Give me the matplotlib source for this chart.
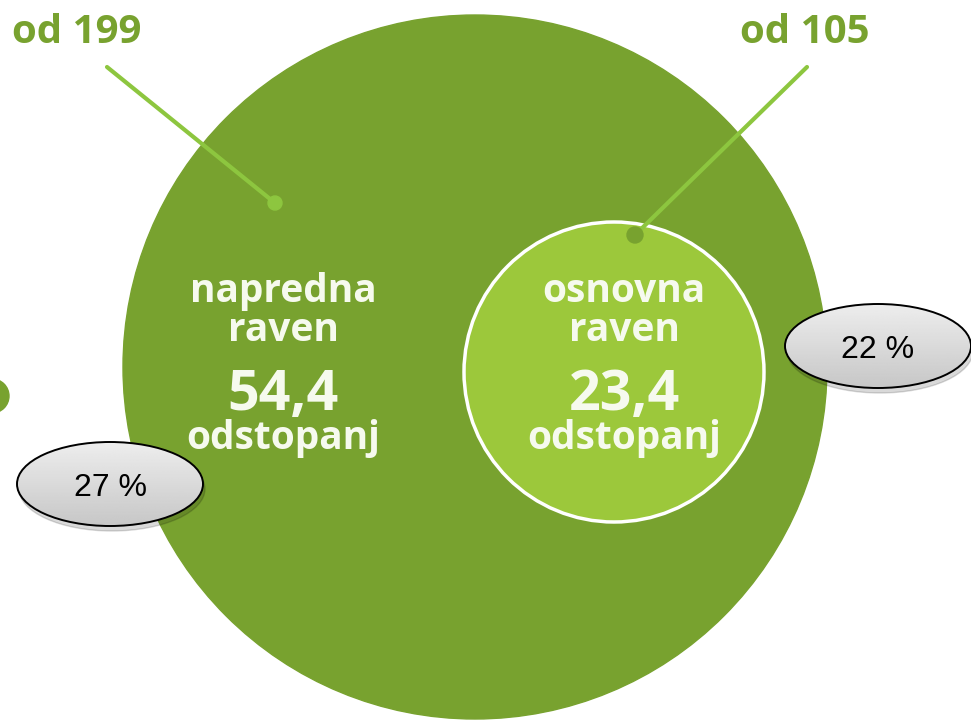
import matplotlib.pyplot as plt
import numpy as np
from matplotlib.patches import Circle, Ellipse

# podatki
ravni = ["napredna\nraven", "osnovna\nraven"]
odstopanja = [54.4, 23.4]
skupaj = [199, 105]
deleži = [27, 22]

temno_zelena = "#78a22f"
svetlo_zelena = "#9cc83b"
crta_zelena = "#8dc63f"
bela = "#f6faee"

fig = plt.figure(figsize=(9.71, 7.21), dpi=100)
ax = fig.add_axes([0, 0, 1, 1])
ax.set_xlim(0, 971)
ax.set_ylim(721, 0)
ax.axis("off")

# velik krog in del sosednje pike na robu
ax.add_patch(Circle((475, 367), 352, color=temno_zelena, zorder=1))
ax.add_patch(Circle((-8, 396), 17, color=temno_zelena, zorder=1))

# manjsi krog
ax.add_patch(Circle((614, 372), 150, facecolor=svetlo_zelena, edgecolor="white",
                    linewidth=2.5, zorder=2))

# oznake z linijami
ax.plot([107, 275], [67, 203], color=crta_zelena, linewidth=3, zorder=3, solid_capstyle="round")
ax.add_patch(Circle((275, 203), 7, color=crta_zelena, zorder=3))
ax.plot([807, 635], [67, 235], color=crta_zelena, linewidth=3, zorder=3, solid_capstyle="round")
ax.add_patch(Circle((635, 235), 8, color=temno_zelena, zorder=4))

ax.text(12, 43, f"od {skupaj[0]}", color=temno_zelena, fontsize=29, fontweight="bold",
        family="Open Sans", ha="left", va="baseline")
ax.text(870, 43, f"od {skupaj[1]}", color=temno_zelena, fontsize=29, fontweight="bold",
        family="Open Sans", ha="right", va="baseline")

# besedila v krogih
sredine = [283, 624]
for i in range(len(ravni)):
    x = sredine[i]
    vrstice = ravni[i].split("\n")
    ax.text(x, 302, vrstice[0], color=bela, fontsize=28, fontweight="bold",
            family="Open Sans", ha="center", va="baseline", zorder=5)
    ax.text(x, 341, vrstice[1], color=bela, fontsize=28, fontweight="bold",
            family="Open Sans", ha="center", va="baseline", zorder=5)
    ax.text(x, 410, f"{odstopanja[i]:.1f}".replace(".", ","), color=bela, fontsize=40,
            fontweight="bold", family="Open Sans", ha="center", va="baseline", zorder=5)
    ax.text(x, 449, "odstopanj", color=bela, fontsize=28, fontweight="bold",
            family="Open Sans", ha="center", va="baseline", zorder=5)

# sivi oblački z odstotki
gradient = np.linspace(0.93, 0.78, 100).reshape(-1, 1)
oblacki = [(110, 484), (878, 346)]
for i in range(len(deleži)):
    cx, cy = oblacki[i]
    w, h = 186, 84
    ax.add_patch(Ellipse((cx + 2, cy + 5), w, h, color="black", alpha=0.15, zorder=6))
    el = Ellipse((cx, cy), w, h, facecolor="none", edgecolor="black", linewidth=1.4, zorder=8)
    ax.add_patch(el)
    img = ax.imshow(gradient, cmap="gray", vmin=0, vmax=1, aspect="auto",
                    extent=(cx - w / 2, cx + w / 2, cy + h / 2, cy - h / 2), zorder=7)
    img.set_clip_path(el)
    ax.text(cx, cy + 4, f"{deleži[i]} %", fontsize=23, family="Liberation Sans",
            color="black", ha="center", va="center", zorder=9)

ax.set_xlim(0, 971)
ax.set_ylim(721, 0)

fig.savefig("out.png", dpi=100)
